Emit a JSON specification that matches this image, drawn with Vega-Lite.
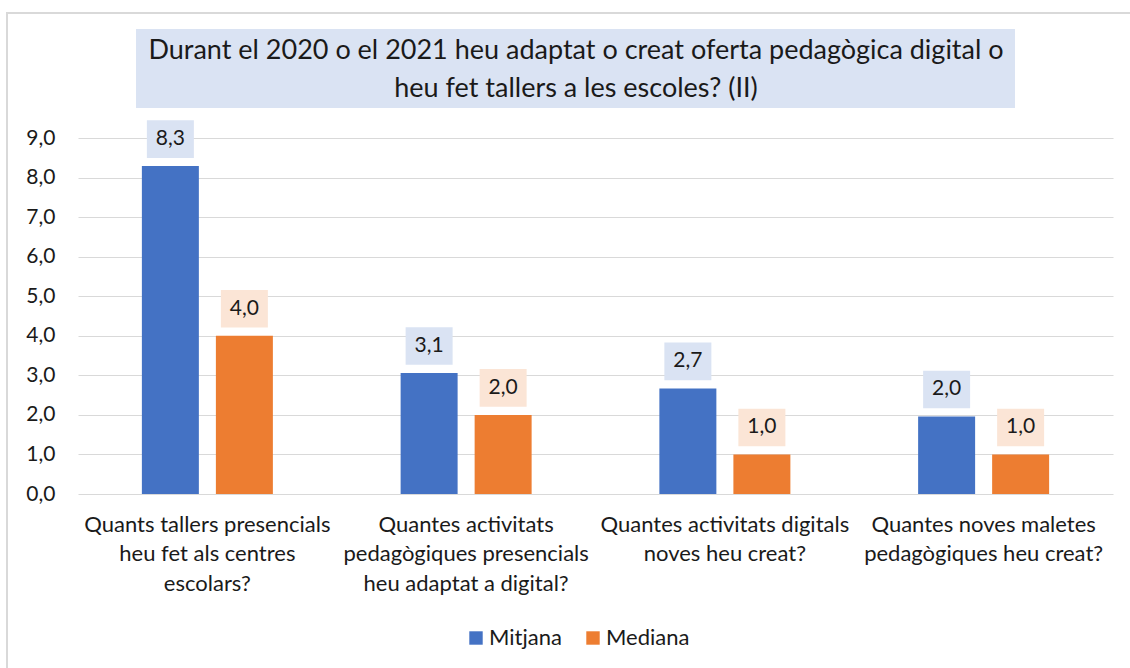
{
  "$schema": "https://vega.github.io/schema/vega-lite/v6.json",
  "width": 1035,
  "height": 356,
  "autosize": {"type": "none"},
  "padding": {"left": 78, "top": 138, "right": 17, "bottom": 174},
  "background": "white",
  "config": {
    "locale": {"number": {"decimal": ",", "thousands": ".", "grouping": [3], "currency": ["", " €"]}},
    "font": "Lato",
    "view": {"stroke": null},
    "axis": {"labelFont": "Lato", "labelColor": "#1a1a1a"}
  },
  "title": {
    "text": ["Durant el 2020 o el 2021 heu adaptat o creat oferta pedagògica digital o", "heu fet tallers a les escoles? (II)"],
    "font": "Lato",
    "fontSize": 27,
    "fontWeight": "normal",
    "lineHeight": 38,
    "color": "#1a1a1a",
    "anchor": "middle",
    "dx": -19.5,
    "offset": -91
  },
  "data": {
    "values": [
      {"Pregunta": "Quants tallers presencials\nheu fet als centres\nescolars?", "Serie": "Mitjana", "Valor": 8.29},
      {"Pregunta": "Quants tallers presencials\nheu fet als centres\nescolars?", "Serie": "Mediana", "Valor": 4.0},
      {"Pregunta": "Quantes activitats\npedagògiques presencials\nheu adaptat a digital?", "Serie": "Mitjana", "Valor": 3.06},
      {"Pregunta": "Quantes activitats\npedagògiques presencials\nheu adaptat a digital?", "Serie": "Mediana", "Valor": 2.0},
      {"Pregunta": "Quantes activitats digitals\nnoves heu creat?", "Serie": "Mitjana", "Valor": 2.67},
      {"Pregunta": "Quantes activitats digitals\nnoves heu creat?", "Serie": "Mediana", "Valor": 1.0},
      {"Pregunta": "Quantes noves maletes\npedagògiques heu creat?", "Serie": "Mitjana", "Valor": 1.96},
      {"Pregunta": "Quantes noves maletes\npedagògiques heu creat?", "Serie": "Mediana", "Valor": 1.0}
    ]
  },
  "resolve": {"scale": {"x": "independent"}},
  "layer": [
    {
      "layer": [
        {
          "mark": {"type": "rect", "fillOpacity": 0, "stroke": "#D9D9D9", "strokeWidth": 1.5},
          "encoding": {
            "x": {"datum": -0.0686, "type": "quantitative", "scale": {"domain": [0, 1]}, "axis": null},
            "x2": {"datum": 1.03},
            "y": {
              "datum": 12.16,
              "type": "quantitative",
              "axis": {
                "title": null,
                "values": [0, 1, 2, 3, 4, 5, 6, 7, 8, 9],
                "format": ".1f",
                "labelFontSize": 21,
                "labelPadding": 23,
                "domain": false,
                "ticks": false,
                "grid": true,
                "gridColor": "#D9D9D9",
                "gridWidth": 1.2
              }
            },
            "y2": {"datum": -5}
          }
        },
        {
          "mark": {"type": "rect", "fill": "#DAE3F3"},
          "encoding": {
            "x": {"datum": 0.0567, "type": "quantitative", "axis": null},
            "x2": {"datum": 0.9053},
            "y": {
              "datum": 11.755,
              "type": "quantitative",
              "axis": {
                "title": null,
                "values": [0, 1, 2, 3, 4, 5, 6, 7, 8, 9],
                "format": ".1f",
                "labelFontSize": 21,
                "labelPadding": 23,
                "domain": false,
                "ticks": false,
                "grid": true,
                "gridColor": "#D9D9D9",
                "gridWidth": 1.2
              }
            },
            "y2": {"datum": 9.758}
          }
        }
      ]
    },
    {
      "encoding": {
        "x": {
          "field": "Pregunta",
          "type": "nominal",
          "sort": null,
          "scale": {"paddingInner": 0, "paddingOuter": 0},
          "axis": {
            "title": null,
            "labelAngle": 0,
            "labelExpr": "split(datum.label, '\\n')",
            "labelFontSize": 22,
            "labelLineHeight": 29.5,
            "labelPadding": 20,
            "labelLimit": 400,
            "domain": false,
            "ticks": false,
            "grid": false
          }
        },
        "xOffset": {
          "field": "Serie",
          "type": "nominal",
          "sort": ["Mitjana", "Mediana"],
          "scale": {"paddingInner": 0.23, "paddingOuter": 0.863}
        },
        "y": {
          "field": "Valor",
          "type": "quantitative",
          "scale": {"domain": [0, 9], "nice": false, "zero": true},
          "axis": {
            "title": null,
            "values": [0, 1, 2, 3, 4, 5, 6, 7, 8, 9],
            "format": ".1f",
            "labelFontSize": 21,
            "labelPadding": 23,
            "domain": false,
            "ticks": false,
            "grid": true,
            "gridColor": "#D9D9D9",
            "gridWidth": 1.2
          }
        }
      },
      "layer": [
        {
          "mark": {"type": "bar"},
          "encoding": {
            "color": {
              "field": "Serie",
              "type": "nominal",
              "sort": ["Mitjana", "Mediana"],
              "scale": {"domain": ["Mitjana", "Mediana"], "range": ["#4472C4", "#ED7D31"]},
              "legend": {
                "title": null,
                "orient": "none",
                "direction": "horizontal",
                "legendX": 387,
                "legendY": 489,
                "symbolType": "square",
                "symbolSize": 180,
                "symbolStrokeWidth": 0,
                "labelFontSize": 22,
                "labelFont": "Lato",
                "labelColor": "#1a1a1a",
                "labelOffset": 2,
                "columnPadding": 20
              }
            }
          }
        },
        {
          "mark": {"type": "point", "shape": "M-1,-0.8H1V0.8H-1Z", "size": 2209, "filled": true, "opacity": 1, "strokeWidth": 0, "yOffset": -27},
          "encoding": {
            "fill": {"condition": {"test": "datum.Serie === 'Mitjana'", "value": "#DAE3F3"}, "value": "#FBE5D6"}
          }
        },
        {
          "mark": {"type": "text", "fontSize": 21, "font": "Lato", "color": "#1a1a1a", "baseline": "middle", "yOffset": -27},
          "encoding": {
            "text": {"field": "Valor", "type": "quantitative", "format": ".1f"}
          }
        }
      ]
    }
  ]
}
